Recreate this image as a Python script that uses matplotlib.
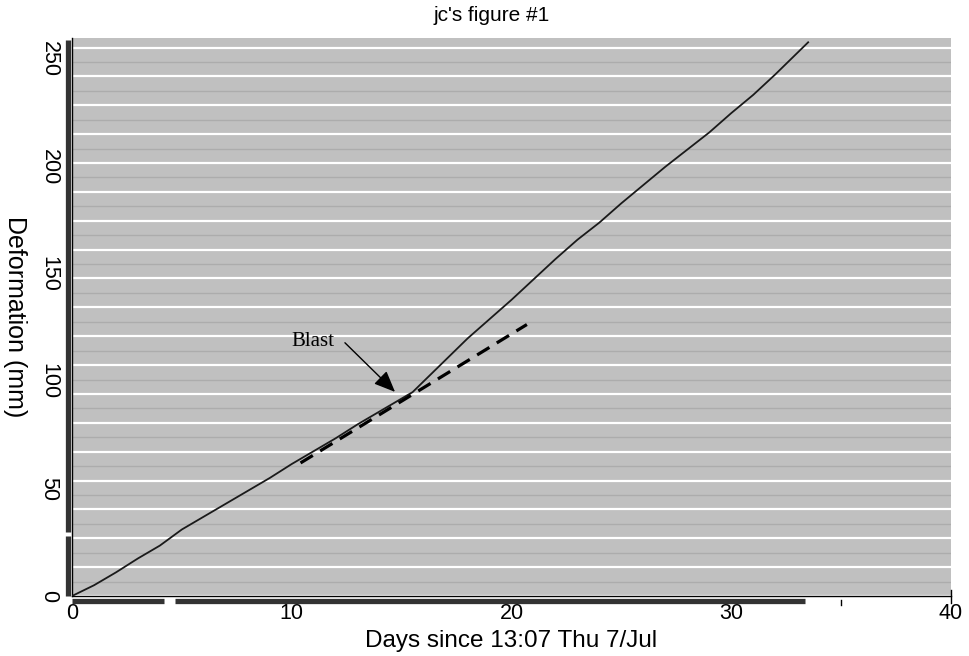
import matplotlib.pyplot as plt

days = [0, 1, 2, 3, 4, 5, 6, 7, 8, 9, 10, 11, 12, 13, 14, 15, 15.5,
        16, 17, 18, 19, 20, 21, 22, 23, 24, 25, 26, 27, 28, 29, 30, 31, 32, 33.5]
deformation = [0, 5, 11, 17.5, 23.5, 31, 37, 43, 49, 55, 61.5, 67.5, 73.5, 80, 86, 92, 95,
               100, 110, 120, 129, 138, 147.5, 157, 166, 174, 183, 191.5, 200, 208, 216,
               225, 233.5, 243, 258]

# pre-blast trend line
trend_days = [10.4, 20.7]
trend_def = [62, 126.5]

xticks = [0, 10, 20, 30, 40]
yticks = [0, 50, 100, 150, 200, 250]


def run():
    plt.rcParams['font.family'] = ['Liberation Sans', 'DejaVu Sans']
    fig = plt.figure(figsize=(9.69, 6.56), dpi=100)
    ax = fig.add_axes([72/969, 1 - 596/656, (951 - 72)/969, (596 - 38)/656])
    ax.set_facecolor('#c0c0c0')
    ax.set_xlim(0, 40)
    ax.set_ylim(0, 260)

    # striped background: white grid with darker lines in between
    step = 13.45
    for k in range(20):
        ax.axhline(k*step, color='white', lw=1.6, zorder=0.5)
        ax.axhline((k + 0.5)*step, color='#acacac', lw=1.0, zorder=0.4)

    ax.plot(days, deformation, color='#1a1a1a', lw=1.3, zorder=3)
    ax.plot(trend_days, trend_def, color='black', lw=2.3, dashes=(4.5, 2.7), zorder=3)

    ax.text(10.97, 118.5, 'Blast', fontsize=15, family='Liberation Serif',
            ha='center', va='center')
    ax.annotate('', xy=(14.7, 95.1), xytext=(12.42, 118),
                arrowprops=dict(arrowstyle='-|>,head_length=1.3,head_width=0.55',
                                color='black', lw=1.0, shrinkA=0, shrinkB=0))

    ax.set_xticks(xticks)
    ax.set_yticks(yticks)
    ax.tick_params(axis='both', length=0, labelsize=15.5)
    ax.tick_params(axis='x', pad=5)
    ax.tick_params(axis='y', pad=9)
    for lab in ax.get_yticklabels():
        lab.set_rotation(-90)
        lab.set_va('center')

    for side in ['top', 'right']:
        ax.spines[side].set_visible(False)
    ax.spines['bottom'].set_linewidth(1.0)
    ax.spines['left'].set_linewidth(1.0)

    # heavy range bars along the axes
    bar = dict(color='#333333', lw=3.8, clip_on=False, solid_capstyle='butt')
    xt = ax.get_xaxis_transform()
    yt = ax.get_yaxis_transform()
    ax.plot([0, 4.2], [-0.009, -0.009], transform=xt, **bar)
    ax.plot([4.7, 33.35], [-0.009, -0.009], transform=xt, **bar)
    ax.plot([-0.0045, -0.0045], [0, 28], transform=yt, **bar)
    ax.plot([-0.0045, -0.0045], [30, 259], transform=yt, **bar)
    ax.plot([40, 40], [-0.012, 0.01], transform=xt, color='black', lw=1, clip_on=False)
    ax.plot([35, 35], [-0.016, -0.008], transform=xt, color='black', lw=1, clip_on=False)

    ax.set_xlabel('Days since 13:07 Thu 7/Jul', fontsize=17.5, labelpad=4)
    ax.set_ylabel('Deformation (mm)', fontsize=18, rotation=-90, va='center')
    ax.yaxis.set_label_coords(-0.065, 0.5)
    fig.text(0.507, 0.977, "jc's figure #1", fontsize=15, ha='center', va='center')

    fig.savefig('out.png', dpi=100)


if __name__ == '__main__':
    run()
